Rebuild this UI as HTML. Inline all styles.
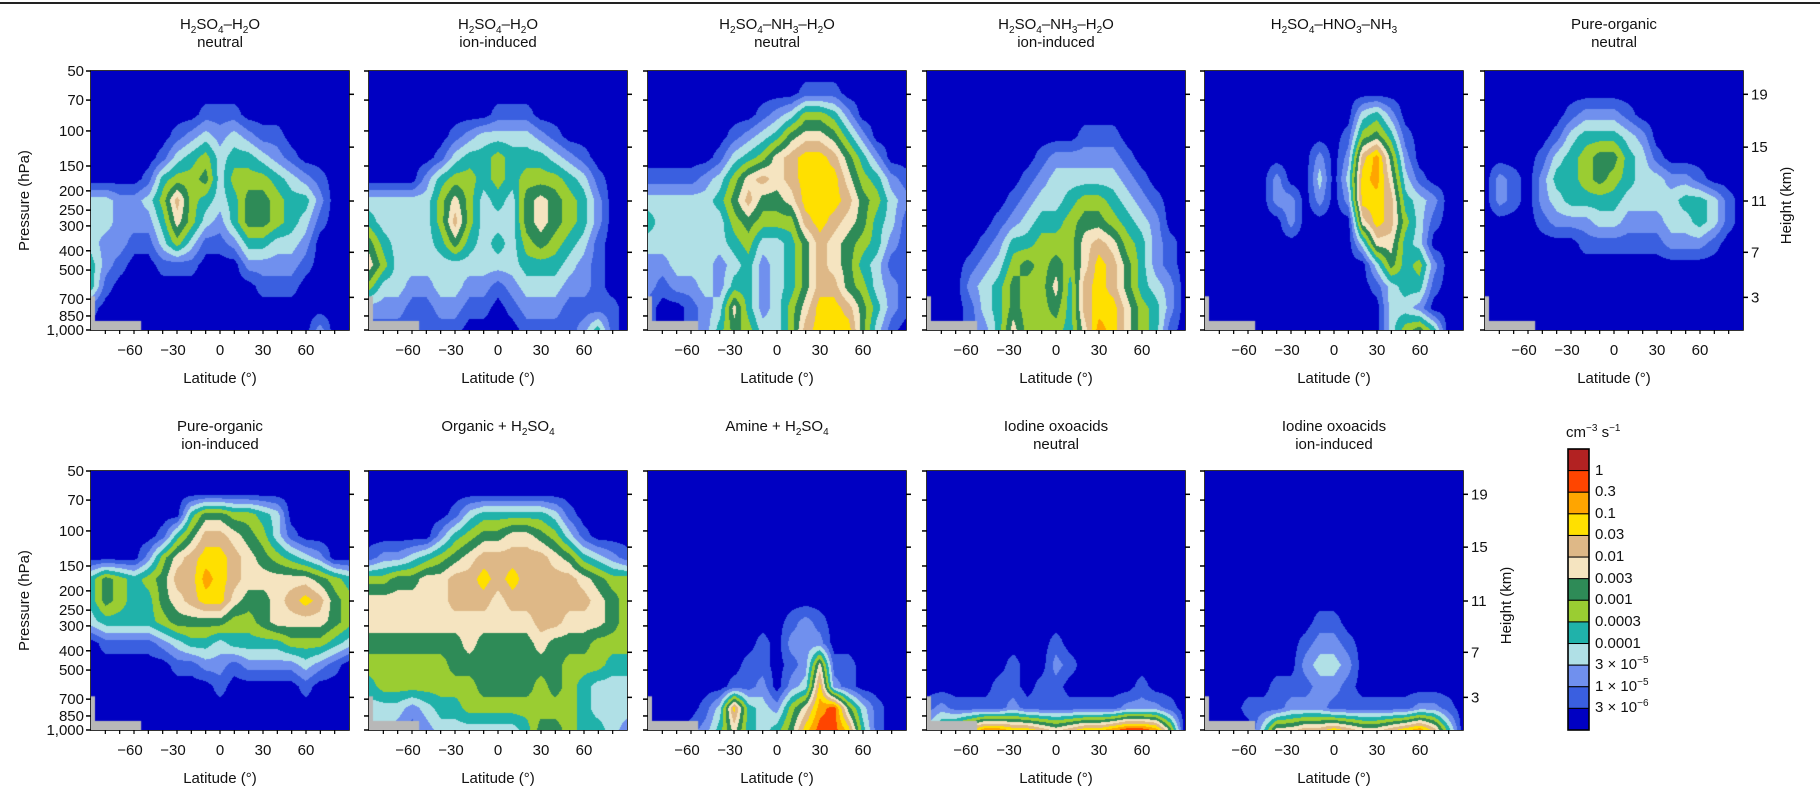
<!DOCTYPE html>
<html><head><meta charset="utf-8">
<style>
html,body{margin:0;padding:0;background:#fff;}
body{width:1820px;height:801px;position:relative;overflow:hidden;font-family:"Liberation Sans",sans-serif;color:#111;}
canvas{position:absolute;}
.t{position:absolute;font-size:15px;text-align:center;line-height:18px;white-space:nowrap;}
sub,sup{font-size:10px;line-height:0;}
#topline{position:absolute;left:0;top:2px;width:1820px;height:1.5px;background:#222;}
</style></head>
<body>
<div id="topline"></div>
<div class="t" style="left:91px;width:258px;top:16px">H<sub>2</sub>SO<sub>4</sub>–H<sub>2</sub>O<br>neutral</div>
<div class="t" style="left:369px;width:258px;top:16px">H<sub>2</sub>SO<sub>4</sub>–H<sub>2</sub>O<br>ion-induced</div>
<div class="t" style="left:648px;width:258px;top:16px">H<sub>2</sub>SO<sub>4</sub>–NH<sub>3</sub>–H<sub>2</sub>O<br>neutral</div>
<div class="t" style="left:927px;width:258px;top:16px">H<sub>2</sub>SO<sub>4</sub>–NH<sub>3</sub>–H<sub>2</sub>O<br>ion-induced</div>
<div class="t" style="left:1205px;width:258px;top:16px">H<sub>2</sub>SO<sub>4</sub>–HNO<sub>3</sub>–NH<sub>3</sub></div>
<div class="t" style="left:1485px;width:258px;top:16px">Pure-organic<br>neutral</div>
<div class="t" style="left:91px;width:258px;top:418px">Pure-organic<br>ion-induced</div>
<div class="t" style="left:369px;width:258px;top:418px">Organic + H<sub>2</sub>SO<sub>4</sub></div>
<div class="t" style="left:648px;width:258px;top:418px">Amine + H<sub>2</sub>SO<sub>4</sub></div>
<div class="t" style="left:927px;width:258px;top:418px">Iodine oxoacids<br>neutral</div>
<div class="t" style="left:1205px;width:258px;top:418px">Iodine oxoacids<br>ion-induced</div>
<div class="t" style="left:1566px;top:424px;text-align:left">cm<sup>−3</sup> s<sup>−1</sup></div>
<svg id="ax" width="1820" height="801" style="position:absolute;left:0;top:0"></svg>
<script>
const latitudes=[-90,-80,-70,-60,-50,-40,-30,-20,-10,0,10,20,30,40,50,60,70,80,90];
const pressureTicks=[50,70,100,150,200,250,300,400,500,700,850,1000];
const pressureLabels=['50','70','100','150','200','250','300','400','500','700','850','1,000'];
const heightTicks=[19,15,11,7,3];
const heightFrac=[0.09,0.294,0.502,0.70,0.874];
const latTicks=[-60,-30,0,30,60];
const levelLabels=['1','0.3','0.1','0.03','0.01','0.003','0.001','0.0003','0.0001','3 × 10<sup>−5</sup>','1 × 10<sup>−5</sup>','3 × 10<sup>−6</sup>'];
const Z="0000000000000000000";
const gridH2so4Neutral=[Z,Z,"0000000011100000000","0000001232321100000","0000013453443210000","0000145563555432100","3322358543466544200","3322247532466543100","3221135311244332000","4210011100022221000","4100000000001110000","1000000000000000000","0000000000000000200"];
const gridH2so4Ion=[Z,Z,"0000000001110000000","0000001233332100000","0000013445444321000","0000245545455543100","3333357534367654200","4333358533367654200","6433346434356543100","7533333333344432100","5332233221233322100","2221122110122211110","1111111000011112410"];
const gridNh3Neutral=[Z,"0000000000011100000","0000000012355420000","0000001234677642000","0000013457899864200","1111235787899975421","3333346866799986532","4333335655589876431","3333334533468765421","2233323423468764311","2122324423468865321","1001237423579986421","1001246533589996310"];
const gridNh3Ion=[Z,Z,Z,"0000000000011100000","0000000012222210000","0000000123333321000","0000001233455432100","0000012344566543200","0000124455578754210","0001235656579864210","0002346557489864320","0001346556489975420","000124755547a975410"];
const gridHno3=[Z,Z,"0000000000034200000","0000000000156410000","000000002028a620000","000002003039a731000","0000022020299843200","0000002000079853100","0000000000037743000","0000000000003645200","0000000000001344100","0000000000000332000","0000000000000356400"];
const gridOrgNeutral=[Z,Z,"0000001222100000000","0000013444320000000","0000134566431000000","0210244565433221000","0210234444333344310","0000122233222334310","0000000111111222100",Z,Z,Z,Z];
const gridOrgIon=[Z,Z,"0000000466554300000","0000014688765310000","0000257899876543200","46545688a9877777654","4654467899766789865","3444456666556777765","0111123443444455543","0000001122122223210","0000000001000001000",Z,Z];
const gridOrgH2so4=[Z,Z,"0000001344444310000","0000024566776531000","1223456788888764321","5566778898988887655","7777778887888888765","7777777777778877765","6666666766667666555","5555556666666655544","4555555566665654333","3332344555555554333","3321233333346654432"];
const gridAmine=[Z,Z,Z,Z,Z,Z,Z,"0000000000121000000","0000000010222000000","0000000110127110000","0000001120239210000","000013943257ab63100","000124743469bb94100"];
const gridIodineNeutral=[Z,Z,Z,Z,Z,Z,Z,Z,"0000000001000000000","0000001002100000000","0000011011000001000","1211112111111122210","3568aa9987899abba60"];
const gridIodineIon=[Z,Z,Z,Z,Z,Z,Z,"0000000011000000000","0000000122100000000","0000000233200000000","0000011122100000000","0001112221111112210","000037788987789a840"];

const COLORS=['#0000c2','#3a5fe0','#7090ee','#b0e0e6','#20b2aa','#9acd32','#2e8b57','#f5e4c0','#deb887','#ffe000','#ffa500','#ff4500','#b22222'];
const W=258,H=259;
const panels=[
 {g:gridH2so4Neutral,x:91,y:71,n:'panel-h2so4-h2o-neutral',left:true},
 {g:gridH2so4Ion,x:369,y:71,n:'panel-h2so4-h2o-ion'},
 {g:gridNh3Neutral,x:648,y:71,n:'panel-h2so4-nh3-neutral'},
 {g:gridNh3Ion,x:927,y:71,n:'panel-h2so4-nh3-ion'},
 {g:gridHno3,x:1205,y:71,n:'panel-h2so4-hno3-nh3'},
 {g:gridOrgNeutral,x:1485,y:71,n:'panel-pure-organic-neutral',right:true},
 {g:gridOrgIon,x:91,y:471,n:'panel-pure-organic-ion',left:true},
 {g:gridOrgH2so4,x:369,y:471,n:'panel-organic-h2so4'},
 {g:gridAmine,x:648,y:471,n:'panel-amine-h2so4'},
 {g:gridIodineNeutral,x:927,y:471,n:'panel-iodine-neutral'},
 {g:gridIodineIon,x:1205,y:471,n:'panel-iodine-ion',right:true}
];
function hex(c){return [parseInt(c.substr(1,2),16),parseInt(c.substr(3,2),16),parseInt(c.substr(5,2),16)];}
const RGB=COLORS.map(hex);
function latToX(lat){return (lat-latitudes[0])/(latitudes[latitudes.length-1]-latitudes[0])*W;}
function pToF(p){return Math.log(p/50)/Math.log(1000/50);}
const svg=document.getElementById('ax');
const NS='http://www.w3.org/2000/svg';
function mk(tag,attrs){const e=document.createElementNS(NS,tag);for(const k in attrs)e.setAttribute(k,attrs[k]);svg.appendChild(e);return e;}
function txt(x,y,s,anchor,name){const e=mk('text',{x:x,y:y,'text-anchor':anchor||'middle','font-size':15,'font-family':'Liberation Sans, sans-serif',fill:'#111'});e.textContent=s;return e;}

panels.forEach(P=>{
  const cv=document.createElement('canvas');
  cv.width=W;cv.height=H;cv.style.left=P.x+'px';cv.style.top=P.y+'px';
  
  
  document.body.appendChild(cv);
  const ctx=cv.getContext('2d');const img=ctx.createImageData(W,H);
  const g=P.g.map(r=>r.split('').map(c=>parseInt(c,16)));
  const nr=g.length-1,nc=latitudes.length-1;
  for(let py=0;py<H;py++){
    const fr=py/(H-1)*nr;let r0=Math.floor(fr);if(r0>=nr)r0=nr-1;const tr=fr-r0;
    for(let px=0;px<W;px++){
      const fc=px/(W-1)*nc;let c0=Math.floor(fc);if(c0>=nc)c0=nc-1;const tc=fc-c0;
      const v=(g[r0][c0]*(1-tc)+g[r0][c0+1]*tc)*(1-tr)+(g[r0+1][c0]*(1-tc)+g[r0+1][c0+1]*tc)*tr;
      let L=Math.round(v);if(L<0)L=0;if(L>12)L=12;
      const c=RGB[L];const i=(py*W+px)*4;
      img.data[i]=c[0];img.data[i+1]=c[1];img.data[i+2]=c[2];img.data[i+3]=255;
    }
  }
  ctx.putImageData(img,0,0);
  ctx.fillStyle='#b8b8b8';
  ctx.fillRect(0,H*0.87,4,H*0.13);
  ctx.fillRect(0,H*0.965,latToX(-55),H*0.035+1);
  mk('rect',{x:P.x,y:P.y,width:W,height:H,fill:'none',stroke:'#000','stroke-width':1.6});
  pressureTicks.forEach((p,i)=>{
    const y=P.y+pToF(p)*H;
    mk('line',{x1:P.x-5,x2:P.x,y1:y,y2:y,stroke:'#000','stroke-width':1.5});
    if(P.left){txt(P.x-7,y+5,pressureLabels[i],'end','pressure-tick-label');}
  });
  heightFrac.forEach((f,i)=>{
    const y=P.y+f*H;
    mk('line',{x1:P.x+W,x2:P.x+W+5,y1:y,y2:y,stroke:'#000','stroke-width':1.5});
    if(P.right){txt(P.x+W+8,y+5,String(heightTicks[i]),'start','height-tick-label');}
  });
  for(let lat=-80;lat<=80;lat+=10){
    const x=P.x+latToX(lat);
    mk('line',{x1:x,x2:x,y1:P.y+H,y2:P.y+H+4,stroke:'#000','stroke-width':1.2});
  }
  latTicks.forEach(l=>{txt(P.x+latToX(l)-(l<0?4:0),P.y+H+25,(l<0?'−':'')+Math.abs(l),'middle','latitude-tick-label');});
  txt(P.x+W/2,P.y+H+53,'Latitude (°)','middle','x-axis-title');
  if(P.left){const t=txt(0,0,'Pressure (hPa)','middle','y-axis-title-pressure');t.setAttribute('transform','translate('+(P.x-62)+','+(P.y+H/2)+') rotate(-90)');}
  if(P.right){const t=txt(0,0,'Height (km)','middle','y-axis-title-height');t.setAttribute('transform','translate('+(P.x+W+48)+','+(P.y+H/2+5)+') rotate(-90)');}
});
const cbX=1568,cbY=449,cbW=21,cbH=281,cell=cbH/13;
for(let i=0;i<13;i++){
  const r=mk('rect',{x:cbX,y:cbY+i*cell,width:cbW,height:cell,fill:COLORS[12-i],stroke:'#000','stroke-width':1});
  
  
}
mk('rect',{x:cbX,y:cbY,width:cbW,height:cbH,fill:'none',stroke:'#000','stroke-width':1.6});
levelLabels.forEach((s,i)=>{
  const d=document.createElement('div');d.className='t';
  d.style.left=(cbX+27)+'px';d.style.top=(cbY+(i+1)*cell-9)+'px';d.style.textAlign='left';
  d.innerHTML=s;
  
  
  document.body.appendChild(d);
});
</script>
</body></html>
